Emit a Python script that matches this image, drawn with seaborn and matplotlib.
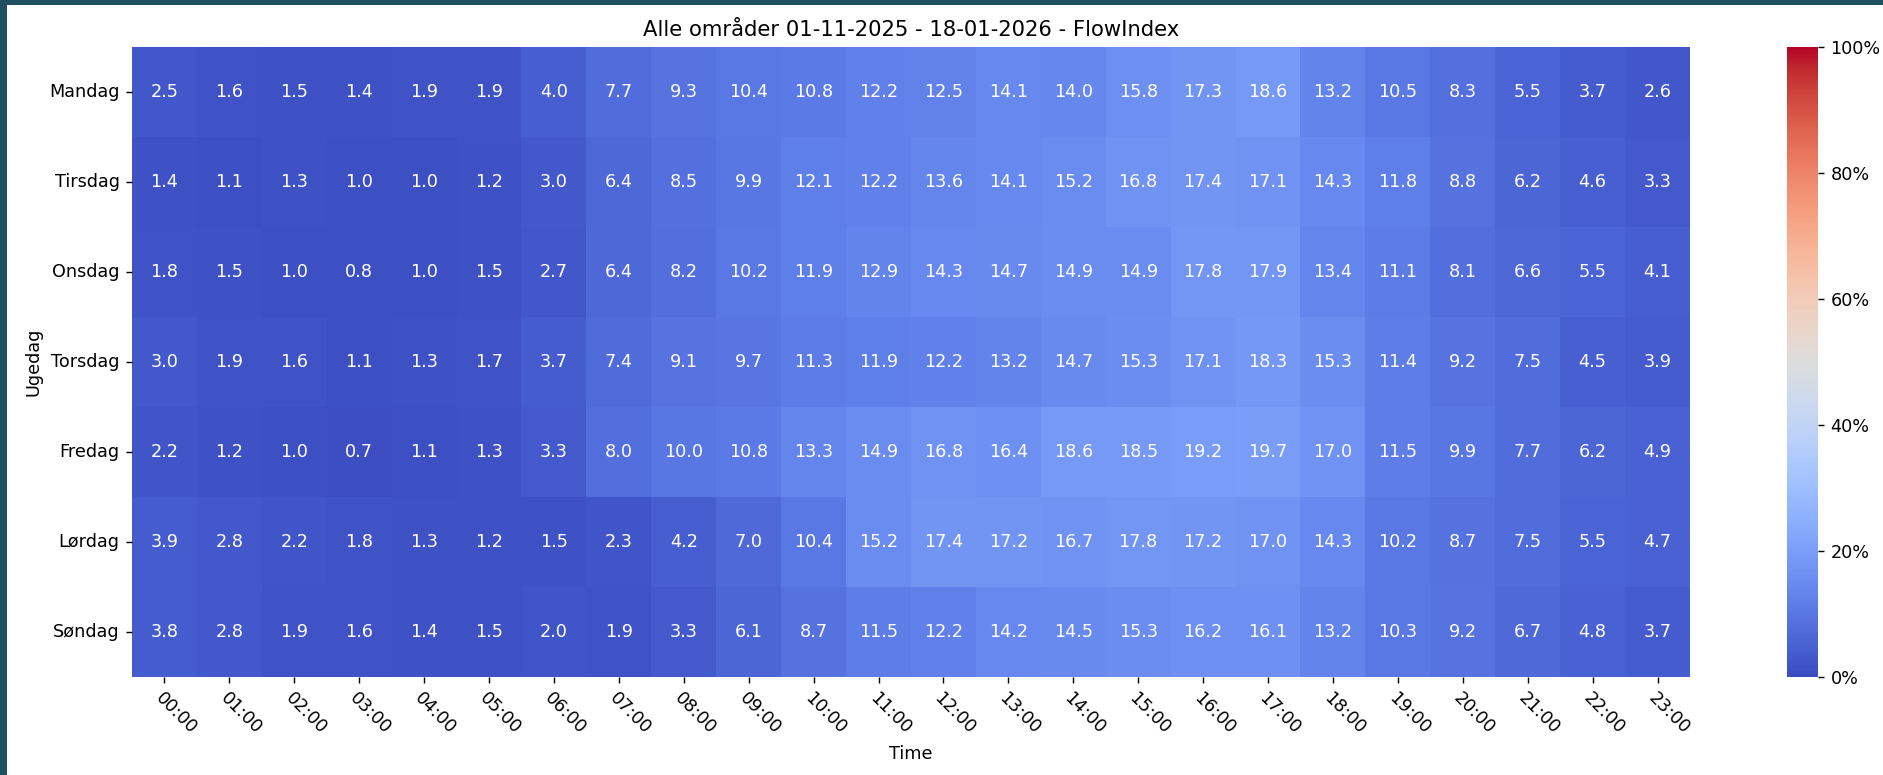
import pandas as pd
import seaborn as sns
import matplotlib.pyplot as plt
from matplotlib.patches import Rectangle

# FlowIndex per ugedag og time (andel i procent)
days = ["Mandag", "Tirsdag", "Onsdag", "Torsdag", "Fredag", "Lørdag", "Søndag"]
hours = ["00:00", "01:00", "02:00", "03:00", "04:00", "05:00", "06:00", "07:00",
         "08:00", "09:00", "10:00", "11:00", "12:00", "13:00", "14:00", "15:00",
         "16:00", "17:00", "18:00", "19:00", "20:00", "21:00", "22:00", "23:00"]

mandag = [2.5, 1.6, 1.5, 1.4, 1.9, 1.9, 4.0, 7.7, 9.3, 10.4, 10.8, 12.2,
          12.5, 14.1, 14.0, 15.8, 17.3, 18.6, 13.2, 10.5, 8.3, 5.5, 3.7, 2.6]
tirsdag = [1.4, 1.1, 1.3, 1.0, 1.0, 1.2, 3.0, 6.4, 8.5, 9.9, 12.1, 12.2,
           13.6, 14.1, 15.2, 16.8, 17.4, 17.1, 14.3, 11.8, 8.8, 6.2, 4.6, 3.3]
onsdag = [1.8, 1.5, 1.0, 0.8, 1.0, 1.5, 2.7, 6.4, 8.2, 10.2, 11.9, 12.9,
          14.3, 14.7, 14.9, 14.9, 17.8, 17.9, 13.4, 11.1, 8.1, 6.6, 5.5, 4.1]
torsdag = [3.0, 1.9, 1.6, 1.1, 1.3, 1.7, 3.7, 7.4, 9.1, 9.7, 11.3, 11.9,
           12.2, 13.2, 14.7, 15.3, 17.1, 18.3, 15.3, 11.4, 9.2, 7.5, 4.5, 3.9]
fredag = [2.2, 1.2, 1.0, 0.7, 1.1, 1.3, 3.3, 8.0, 10.0, 10.8, 13.3, 14.9,
          16.8, 16.4, 18.6, 18.5, 19.2, 19.7, 17.0, 11.5, 9.9, 7.7, 6.2, 4.9]
loerdag = [3.9, 2.8, 2.2, 1.8, 1.3, 1.2, 1.5, 2.3, 4.2, 7.0, 10.4, 15.2,
           17.4, 17.2, 16.7, 17.8, 17.2, 17.0, 14.3, 10.2, 8.7, 7.5, 5.5, 4.7]
soendag = [3.8, 2.8, 1.9, 1.6, 1.4, 1.5, 2.0, 1.9, 3.3, 6.1, 8.7, 11.5,
           12.2, 14.2, 14.5, 15.3, 16.2, 16.1, 13.2, 10.3, 9.2, 6.7, 4.8, 3.7]

cbar_ticks = [0, 20, 40, 60, 80, 100]

df = pd.DataFrame([mandag, tirsdag, onsdag, torsdag, fredag, loerdag, soendag],
                  index=days, columns=hours)

dpi = 127
fig = plt.figure(figsize=(1883 / dpi, 775 / dpi), dpi=dpi)

# screenshot border
fig.patch.set_facecolor("#1e5062")
fig.patches.append(Rectangle((7 / 1883, 0), 1, 1 - 5 / 775, transform=fig.transFigure,
                             facecolor="white", edgecolor="none", zorder=-1))

ax = fig.add_axes([0.0701, 0.1265, 0.8274, 0.8129])
cax = fig.add_axes([0.949, 0.1265, 0.0165, 0.8129])

sns.heatmap(df, ax=ax, cbar_ax=cax, cmap="coolwarm", vmin=0, vmax=100,
            annot=True, fmt=".1f",
            cbar_kws={"format": "%.0f%%", "ticks": cbar_ticks})

ax.set_title("Alle områder 01-11-2025 - 18-01-2026 - FlowIndex")
ax.set_xlabel("Time")
ax.set_ylabel("Ugedag")
plt.setp(ax.get_xticklabels(), rotation=-45, ha="left", rotation_mode="anchor")
ax.tick_params(axis="y", rotation=0)

fig.savefig("out.png", dpi=dpi, facecolor=fig.get_facecolor())
